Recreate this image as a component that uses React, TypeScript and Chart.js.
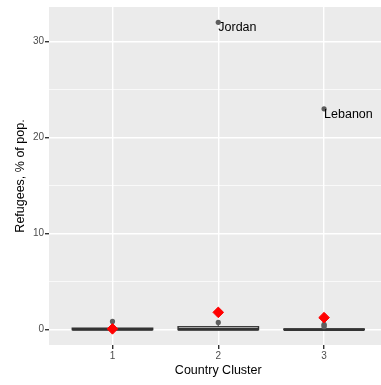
import React, { useEffect, useRef } from 'react';
import { Chart, registerables } from 'chart.js';

Chart.register(...registerables);

// ---- data ----
const clusters = [1, 2, 3];
const clusterLabels = ['1', '2', '3'];
const boxQ1 = [0.0, 0.0, 0.0];
const boxMedian = [0.03, 0.02, 0.0];
const boxQ3 = [0.15, 0.3, 0.06];
const whiskerLow = [0.0, 0.0, 0.0];
const whiskerHigh = [0.3, 0.45, 0.12];
const meanValues = [0.08, 1.8, 1.25];
const outlierCluster = [1, 2, 2, 3, 3, 3, 3];
const outlierValue = [0.85, 0.75, 32.0, 23.0, 0.55, 0.42, 0.3];
const labelCluster = [2, 3];
const labelValue = [32.0, 23.0];
const labelText = ['Jordan', 'Lebanon'];
const yTickValues = [0, 5, 10, 15, 20, 25, 30];
const xTitle = 'Country Cluster';
const yTitle = 'Refugees, % of pop.';

const FONT = '"Liberation Sans", Arial, Helvetica, sans-serif';

const panelPlugin = {
  id: 'panelBg',
  beforeDraw(chart: any) {
    const { ctx, chartArea } = chart;
    ctx.save();
    ctx.fillStyle = '#EBEBEB';
    ctx.fillRect(chartArea.left, chartArea.top, chartArea.right - chartArea.left, chartArea.bottom - chartArea.top);
    ctx.restore();
  },
};

const boxPlugin = {
  id: 'boxes',
  beforeDatasetsDraw(chart: any) {
    const { ctx } = chart;
    const xs = chart.scales.x;
    const ys = chart.scales.y;
    const halfW = 0.38;
    ctx.save();
    clusters.forEach((c, i) => {
      const x0 = xs.getPixelForValue(c - halfW);
      const x1 = xs.getPixelForValue(c + halfW);
      const xc = xs.getPixelForValue(c);
      const yq1 = ys.getPixelForValue(boxQ1[i]);
      const yq3 = ys.getPixelForValue(boxQ3[i]);
      const ymed = ys.getPixelForValue(boxMedian[i]);
      const ywl = ys.getPixelForValue(whiskerLow[i]);
      const ywh = ys.getPixelForValue(whiskerHigh[i]);
      ctx.strokeStyle = '#333333';
      ctx.lineWidth = 1.4;
      ctx.beginPath();
      ctx.moveTo(xc, yq3);
      ctx.lineTo(xc, ywh);
      ctx.moveTo(xc, yq1);
      ctx.lineTo(xc, ywl);
      ctx.stroke();
      ctx.fillStyle = '#FFFFFF';
      ctx.fillRect(x0, yq3, x1 - x0, yq1 - yq3);
      ctx.strokeRect(x0, yq3, x1 - x0, yq1 - yq3);
      ctx.lineWidth = 2.8;
      ctx.beginPath();
      ctx.moveTo(x0, ymed);
      ctx.lineTo(x1, ymed);
      ctx.stroke();
    });
    ctx.restore();
  },
};

const textPlugin = {
  id: 'texts',
  afterDatasetsDraw(chart: any) {
    const { ctx, chartArea } = chart;
    const xs = chart.scales.x;
    const ys = chart.scales.y;
    ctx.save();
    ctx.fillStyle = '#000000';
    ctx.font = `12.5px ${FONT}`;
    ctx.textAlign = 'left';
    ctx.textBaseline = 'alphabetic';
    labelText.forEach((t, i) => {
      const x = xs.getPixelForValue(labelCluster[i]);
      const y = ys.getPixelForValue(labelValue[i]);
      ctx.fillText(t, x, y + 9);
    });
    ctx.textAlign = 'center';
    ctx.fillText(xTitle, xs.getPixelForValue(2), 374);
    ctx.translate(23.5, (chartArea.top + chartArea.bottom) / 2);
    ctx.rotate(-Math.PI / 2);
    ctx.fillText(yTitle, 0, 0);
    ctx.restore();
  },
};

function App() {
  const ref = useRef<HTMLCanvasElement>(null);
  useEffect(() => {
    if (!ref.current) return;
    const chart = new Chart(ref.current, {
      type: 'scatter',
      data: {
        datasets: [
          {
            label: 'mean',
            data: clusters.map((c, i) => ({ x: c, y: meanValues[i] })),
            pointStyle: 'rectRot',
            pointRadius: 5.3,
            backgroundColor: '#FF0000',
            borderColor: '#FF0000',
            borderWidth: 1,
            order: 0,
          },
          {
            label: 'outliers',
            data: outlierCluster.map((c, i) => ({ x: c, y: outlierValue[i] })),
            pointStyle: 'circle',
            pointRadius: 2.6,
            backgroundColor: '#5E5E5E',
            borderColor: '#5E5E5E',
            borderWidth: 0,
            order: 1,
          },
        ],
      },
      options: {
        animation: false,
        responsive: false,
        devicePixelRatio: 1,
        layout: { autoPadding: false, padding: { top: 5, right: 0, left: 0, bottom: 0 } },
        plugins: { legend: { display: false }, tooltip: { enabled: false } },
        scales: {
          x: {
            type: 'linear',
            min: 0.4,
            max: 3.538,
            afterBuildTicks: (s: any) => {
              s.ticks = clusters.map((v) => ({ value: v }));
            },
            afterFit: (s: any) => {
              s.height = 40;
            },
            ticks: {
              color: '#4D4D4D',
              font: { size: 10, family: FONT },
              padding: 1,
              maxRotation: 0,
              autoSkip: false,
              callback: (v: any) => {
                const idx = clusters.indexOf(Number(v));
                return idx >= 0 ? clusterLabels[idx] : '';
              },
            },
            grid: {
              color: '#FFFFFF',
              lineWidth: 1.4,
              tickColor: '#333333',
              tickLength: 4,
              drawOnChartArea: true,
            },
            border: { display: false },
          },
          y: {
            type: 'linear',
            min: -1.6,
            max: 33.6,
            afterBuildTicks: (s: any) => {
              s.ticks = yTickValues.map((v) => ({ value: v }));
            },
            afterFit: (s: any) => {
              s.width = 49;
            },
            ticks: {
              color: '#4D4D4D',
              font: { size: 10, family: FONT },
              padding: 1,
              autoSkip: false,
              callback: (v: any) => (Number(v) % 10 === 0 ? String(v) : ''),
            },
            grid: {
              color: '#FFFFFF',
              lineWidth: (ctx: any) => (ctx.tick && ctx.tick.value % 10 === 0 ? 1.4 : 0.7),
              tickColor: (ctx: any) => (ctx.tick && ctx.tick.value % 10 === 0 ? '#333333' : 'rgba(0,0,0,0)'),
              tickLength: 4,
            },
            border: { display: false },
          },
        },
      },
      plugins: [panelPlugin, boxPlugin, textPlugin],
    } as any);
    return () => chart.destroy();
  }, []);
  return (
    <div style={{ position: 'fixed', left: 0, top: 0, width: 381, height: 385, background: '#FFFFFF' }}>
      <canvas ref={ref} width={381} height={385} style={{ display: 'block', width: 381, height: 385 }} />
    </div>
  );
}

export default App;
